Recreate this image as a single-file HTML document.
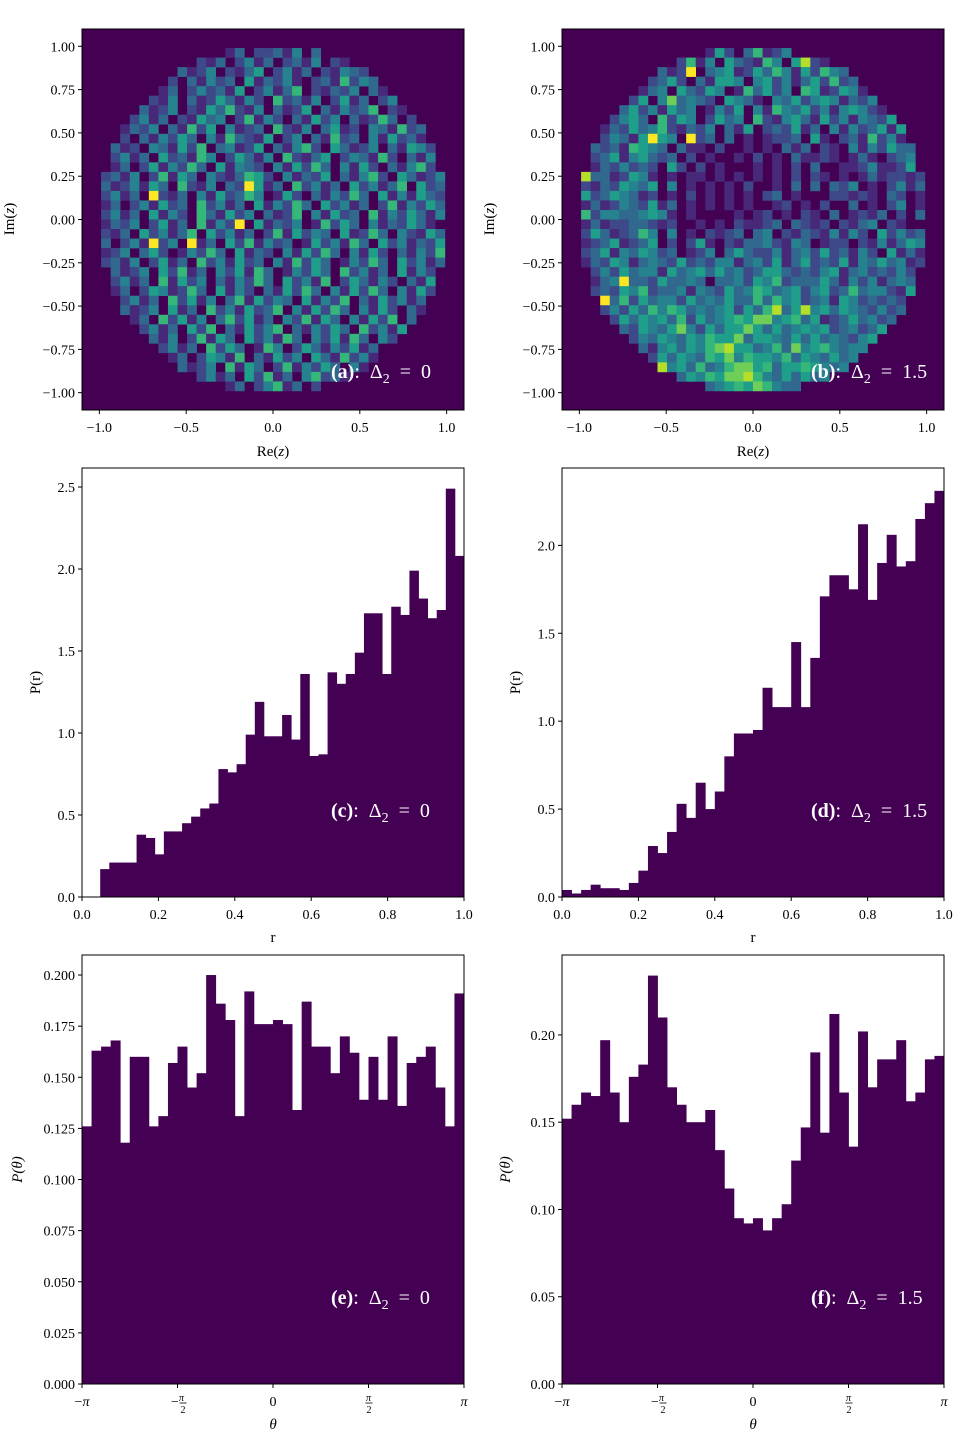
<!DOCTYPE html>
<html><head><meta charset="utf-8">
<style>
html,body{margin:0;padding:0;background:#fff;}
svg text{font-family:"Liberation Serif","DejaVu Serif",serif;fill:#000;}
</style></head>
<body>
<svg id="fig" width="960" height="1440" viewBox="0 0 960 1440" xmlns="http://www.w3.org/2000/svg"></svg>
<script>
// ---------- DATA ----------
const heatA = [
"","",
"1302231403",
"2130241302314021",
"31240213502413021432",
"2031423051324102316243",
"130242315024136021324031",
"21403125314206231402513024",
"3124021536214031250314236021",
"241302153402614203152403126302",
"13240316250412306214035120431623",
"20314253041632150240316230415231",
"3120431526034125031462053124031542",
"2413052316402531406213502431620314",
"1302514263051432041526304152031462",
"231402615304213652041325031462053124",
"312415306214032951306241305241360523",
"241309213041523640152031426305141532",
"130241523062413051426305241302614253",
"241305142063152403126041523061425314",
"132402513061429051324016253041325310",
"213052413605241302615243051263042153",
"302419240913052614230152416305241325",
"124035201426305132041526304152031426",
"231402513062415230416253014263052413",
"3124052613042516301425306241305142",
"2413061524031426305241602531420315",
"1302541263051420315263041526304152",
"24130625140361524305142603152413",
"31240513062415236041526304152031",
"130625140362513042615304152603",
"2413052603152460314253062415",
"31402615305241630425163042",
"241306253016402531425130",
"1302541603152405316241",
"31240615302614253041",
"2413052613046231",
"1302461302",
"",""];
const heatB = [
"","",
"1520361240",
"2614053216405821",
"31290345125364152643",
"2352031554045241352623",
"134053254016352406512541",
"25047343205431043524541324",
"3524153401425041643524145421",
"245306254025340621453152414325",
"13253462132403150232513041423515",
"24315954092303010122305102316241",
"3231654303110200101031302104142533",
"2351453230201001020103112101310234",
"1324232052020100010102030011241125",
"833125410101101010101020210101312212",
"213254350401010102001030303240102413",
"523543120102010101023010002212103201",
"131243251301010101001201020030102401",
"624433454101000010120102103012130203",
"131223321200101021123032120213402100",
"253123640401021230340213214142052423",
"123512350202510213342143012202141354",
"235143542301240353224134252314205131",
"132541343252324413425135232514353412",
"2425344153453534235532324513423242",
"1349332533430334254623335314241343",
"2325462334143253465345245236344215",
"93625344253435336364523415423232",
"24253646534345253683584535432423",
"253545362534565774563512353423",
"3254357425355753534545234235",
"24354354655735543535343245",
"314535467855346374564344",
"2535436574655463543534",
"84536346775635565434",
"3546577864353534",
"3456576433",
"",""];

const pC = [0,0,0.17,0.21,0.21,0.21,0.38,0.36,0.26,0.40,0.40,0.45,0.49,0.54,0.57,0.78,0.76,0.81,0.99,1.19,0.98,0.98,1.11,0.96,1.36,0.86,0.87,1.37,1.30,1.36,1.49,1.73,1.73,1.36,1.77,1.72,1.99,1.82,1.70,1.75,2.49,2.08];
const pD = [0.04,0.02,0.04,0.07,0.05,0.05,0.04,0.08,0.15,0.29,0.25,0.37,0.53,0.45,0.65,0.50,0.60,0.80,0.93,0.93,0.95,1.19,1.08,1.08,1.45,1.08,1.36,1.71,1.83,1.83,1.75,2.12,1.69,1.90,2.06,1.88,1.91,2.15,2.24,2.31];
const pE = [0.126,0.163,0.165,0.168,0.118,0.160,0.160,0.126,0.131,0.157,0.165,0.145,0.152,0.200,0.186,0.178,0.131,0.192,0.176,0.176,0.178,0.176,0.134,0.187,0.165,0.165,0.152,0.170,0.162,0.139,0.160,0.139,0.170,0.136,0.157,0.160,0.165,0.145,0.126,0.191];
const pF = [0.152,0.160,0.167,0.165,0.197,0.167,0.150,0.176,0.183,0.234,0.210,0.170,0.160,0.150,0.150,0.157,0.134,0.112,0.095,0.092,0.095,0.088,0.095,0.103,0.128,0.147,0.190,0.144,0.212,0.167,0.136,0.202,0.170,0.186,0.186,0.197,0.162,0.167,0.186,0.188];

const zTicks = [-1.0,-0.5,0.0,0.5,1.0];
const zTickLabels = ["−1.0","−0.5","0.0","0.5","1.0"];
const imTicks = [1.0,0.75,0.5,0.25,0,-0.25,-0.5,-0.75,-1.0];
const imTickLabels = ["1.00","0.75","0.50","0.25","0.00","−0.25","−0.50","−0.75","−1.00"];
const rTicks = [0,0.2,0.4,0.6,0.8,1.0];
const rTickLabels = ["0.0","0.2","0.4","0.6","0.8","1.0"];
const cTicks = [0,0.5,1.0,1.5,2.0,2.5];
const cTickLabels = ["0.0","0.5","1.0","1.5","2.0","2.5"];
const dTicks = [0,0.5,1.0,1.5,2.0];
const dTickLabels = ["0.0","0.5","1.0","1.5","2.0"];
const eTicks = [0,0.025,0.05,0.075,0.1,0.125,0.15,0.175,0.2];
const eTickLabels = ["0.000","0.025","0.050","0.075","0.100","0.125","0.150","0.175","0.200"];
const fTicks = [0,0.05,0.1,0.15,0.2];
const fTickLabels = ["0.00","0.05","0.10","0.15","0.20"];

const viridis = ["#440154","#482878","#3e4989","#31688e","#26828e","#1f9e89","#35b779","#6ece58","#b5de2b","#fde725"];
const PURPLE = "#440154";
const NS = "http://www.w3.org/2000/svg";
const svg = document.getElementById('fig');

function mk(tag, attrs, parent){
  const e = document.createElementNS(NS, tag);
  for (const k in attrs) e.setAttribute(k, attrs[k]);
  (parent||svg).appendChild(e);
  return e;
}
function scale(d0,d1,r0,r1){ return v => r0 + (v-d0)/(d1-d0)*(r1-r0); }

function frame(g, x0,y0,x1,y1){
  const f = mk('rect',{x:x0,y:y0,width:x1-x0,height:y1-y0,fill:'none',stroke:'#000','stroke-width':1},g);
  
  
}
function yAxis(g, ys, ticks, labels, x0){
  ticks.forEach((t,i)=>{
    const y = ys(t);
    const l = mk('line',{x1:x0-4,x2:x0,y1:y,y2:y,stroke:'#000','stroke-width':1},g);
    
    
    const tx = mk('text',{x:x0-7,y:y+5,'font-size':14,'text-anchor':'end'},g);
    
    
    tx.textContent = labels[i];
  });
}
function xAxis(g, xs, ticks, labels, y0){
  ticks.forEach((t,i)=>{
    const x = xs(t);
    const l = mk('line',{x1:x,x2:x,y1:y0,y2:y0+4,stroke:'#000','stroke-width':1},g);
    
    
    const tx = mk('text',{x:x,y:y0+22,'font-size':14,'text-anchor':'middle'},g);
    
    
    tx.textContent = labels[i];
  });
}
function label(g, txt, x, y, rot, italic, name){
  const t = mk('text',{x:x,y:y,'font-size':15,'text-anchor':'middle'},g);
  if (rot) t.setAttribute('transform',`rotate(-90 ${x} ${y})`);
  if (italic) t.setAttribute('font-style','italic');
  
  
  t.innerHTML = txt;
}
function annot(g, letter, val, x, y){
  const t = mk('text',{x:x,y:y,'font-size':20,'word-spacing':5},g);
  t.setAttribute('style','fill:#fff');
  
  
  t.innerHTML = `<tspan font-weight="bold" style="fill:#fff">(${letter})</tspan><tspan style="fill:#fff">: Δ</tspan><tspan font-size="14" dy="5" style="fill:#fff">2</tspan><tspan dy="-5" style="fill:#fff"> = ${val}</tspan>`;
}

function heatPanel(name, rows, x0, letter, val){
  const y0=29, y1=410, x1=x0+382;
  const g = mk('g',{});
  
  
  const xs = scale(-1.1,1.1,x0,x1), ys = scale(-1.1,1.1,y1,y0);
  mk('rect',{x:x0,y:y0,width:382,height:381,fill:PURPLE},g);
  const n = 40, w = 2.2/n;
  rows.forEach((row,j)=>{
    const pad = Math.floor((n-row.length)/2);
    for (let k=0;k<row.length;k++){
      const v = +row[k]; if (!v) continue;
      const i = pad+k;
      const xa = xs(-1.1+i*w), xb = xs(-1.1+(i+1)*w);
      const ya = ys(1.1-j*w), yb = ys(1.1-(j+1)*w);
      const c = mk('rect',{x:xa,y:ya,width:xb-xa+0.3,height:yb-ya+0.3,fill:viridis[v]},g);
      
      
    }
  });
  frame(g,x0,y0,x1,y1);
  yAxis(g, ys, imTicks, imTickLabels, x0);
  xAxis(g, xs, zTicks, zTickLabels, y1);
  label(g,'Im(<tspan font-style="italic">z</tspan>)', x0-68, 219, true, false, 'y-axis-title');
  label(g,'Re(<tspan font-style="italic">z</tspan>)', (x0+x1)/2, 456, false, false, 'x-axis-title');
  annot(g, letter, val, x0+249, 378);
}

function histPanel(name, vals, x0, y0, y1, d0, d1, ymax, yt, ytl, xt, xtl, ylabel, xlabel, ylx, letter, val, ital){
  const x1 = x0+382;
  const g = mk('g',{});
  
  
  const xs = scale(d0,d1,x0,x1), ys = scale(0,ymax,y1,y0);
  const bw = (d1-d0)/vals.length;
  vals.forEach((v,i)=>{
    if (v<=0) return;
    const xa = xs(d0+i*bw), xb = xs(d0+(i+1)*bw);
    const b = mk('rect',{x:xa,y:ys(v),width:xb-xa+0.4,height:ys(0)-ys(v),fill:PURPLE},g);
    
    
  });
  frame(g,x0,y0,x1,y1);
  yAxis(g, ys, yt, ytl, x0);
  if (xtl) xAxis(g, xs, xt, xtl, y1);
  else {
    xt.forEach((t,i)=>{
      const x = xs(t);
      const l = mk('line',{x1:x,x2:x,y1:y1,y2:y1+4,stroke:'#000'},g);
      
      
      const tx = mk('text',{x:x,y:y1+22,'font-size':14,'text-anchor':'middle'},g);
      
      
      if (i===1||i===3){
        const sgn = i===1?'−':'';
        tx.innerHTML = `${sgn}<tspan font-size="10" font-style="italic" dy="-5">π</tspan>`;
        const bar = mk('line',{x1:x+(i===1?2:-3),x2:x+(i===1?9:4),y1:y1+19,y2:y1+19,stroke:'#000','stroke-width':0.8},g);
        
        
        const d = mk('text',{x:x+(i===1?5.5:0.5),y:y1+29,'font-size':10,'text-anchor':'middle'},g);
        
        
        d.textContent='2';
      } else if (i===0) tx.innerHTML = '−<tspan font-style="italic">π</tspan>';
      else if (i===4) tx.innerHTML = '<tspan font-style="italic">π</tspan>';
      else tx.textContent='0';
    });
  }
  label(g, ylabel, ylx, (y0+y1)/2, true, ital, 'y-axis-title');
  label(g, xlabel, (x0+x1)/2, y1+45, false, ital, 'x-axis-title');
  annot(g, letter, val, x0+249, y1-80);
}

heatPanel('heatmap-a', heatA, 82, 'a', '0');
heatPanel('heatmap-b', heatB, 562, 'b', '1.5');
histPanel('hist-r-c', pC, 82, 468, 897, 0, 1, 2.616, cTicks, cTickLabels, rTicks, rTickLabels, 'P(r)', 'r', 40, 'c', '0', false);
histPanel('hist-r-d', pD, 562, 468, 897, 0, 1, 2.44, dTicks, dTickLabels, rTicks, rTickLabels, 'P(r)', 'r', 520, 'd', '1.5', false);
const thTicks = [-Math.PI,-Math.PI/2,0,Math.PI/2,Math.PI];
histPanel('hist-theta-e', pE, 82, 955, 1384, -Math.PI, Math.PI, 0.2098, eTicks, eTickLabels, thTicks, null, 'P(θ)', 'θ', 22, 'e', '0', true);
histPanel('hist-theta-f', pF, 562, 955, 1384, -Math.PI, Math.PI, 0.2458, fTicks, fTickLabels, thTicks, null, 'P(θ)', 'θ', 510, 'f', '1.5', true);
</script>
</body></html>
